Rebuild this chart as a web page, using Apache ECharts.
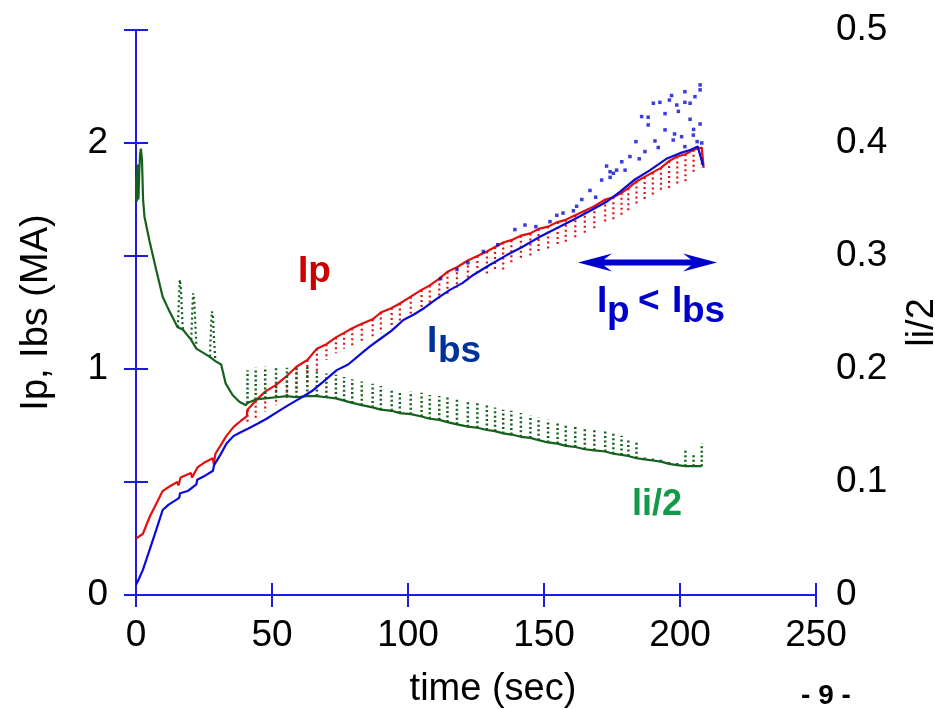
<!DOCTYPE html>
<html><head><meta charset="utf-8">
<script src="https://cdn.jsdelivr.net/npm/echarts@6/dist/echarts.min.js"></script>
<style>html,body{margin:0;padding:0;background:#fff;overflow:hidden}#c{width:935px;height:709px}</style>
</head><body><div id="c"></div>
<script>
// ---------- data (time in sec) ----------
const xTickValues = [0, 50, 100, 150, 200, 250];

// Ip (MA), early smooth phase
const ipEarlyT = [0, 1, 2.5, 5, 7.5, 9.8, 12, 15.2, 15.6, 16.4, 20.2, 20.6, 22.7, 25, 28.2, 28.6, 29.2, 31, 33.3, 36, 38.5, 40.7];
const ipEarlyV = [0.248, 0.258, 0.27, 0.345, 0.405, 0.46, 0.478, 0.50, 0.485, 0.52, 0.54, 0.52, 0.566, 0.585, 0.605, 0.58, 0.625, 0.66, 0.705, 0.745, 0.77, 0.79];

// sawtooth times (sec)
const toothT = [41, 44, 47.5, 51.5, 55.5, 59, 63, 66.5, 70, 73.5, 76.5, 79.5, 83, 87, 90, 94, 97, 101, 105, 108,
  111.5, 114.5, 118, 122, 125.5, 129, 132, 135, 138, 141.5, 145, 148, 151.5, 155, 158, 161.5, 165, 168.5, 172.5, 175.5,
  178.5, 181, 184, 187, 190, 193, 196, 199, 202, 205, 208];
// Ip upper envelope and dips at each sawtooth
const ipTop = [0.82, 0.86, 0.90, 0.93, 0.97, 1.01, 1.04, 1.09, 1.11, 1.14, 1.16, 1.18, 1.20, 1.22, 1.25, 1.27, 1.29, 1.32, 1.35, 1.37,
  1.40, 1.43, 1.45, 1.48, 1.50, 1.52, 1.54, 1.56, 1.57, 1.59, 1.60, 1.62, 1.63, 1.65, 1.66, 1.68, 1.70, 1.72, 1.75, 1.76,
  1.78, 1.80, 1.83, 1.85, 1.87, 1.89, 1.92, 1.94, 1.95, 1.97, 1.98];
const ipLow = [0.76, 0.78, 0.81, 0.84, 0.87, 0.90, 0.93, 0.99, 1.04, 1.07, 1.09, 1.10, 1.12, 1.14, 1.16, 1.18, 1.20, 1.23, 1.26, 1.28,
  1.31, 1.33, 1.36, 1.39, 1.41, 1.42, 1.43, 1.44, 1.46, 1.48, 1.49, 1.51, 1.52, 1.54, 1.56, 1.57, 1.59, 1.61, 1.64, 1.65,
  1.68, 1.70, 1.73, 1.74, 1.76, 1.78, 1.80, 1.81, 1.83, 1.86, 1.89];
const ipEndT = [208.7];
const ipEndV = [1.89];

// Ibs (MA)
const ibsT = [0, 1, 2.5, 5, 7.5, 9.8, 12, 15.9, 16.2, 19, 22.2, 22.5, 25, 28.3, 28.7, 31, 33.3, 35.8, 38.5, 41.3, 45, 48, 52, 56,
  60.3, 65, 69, 73.8, 78, 82, 86, 90, 94, 98.3, 102, 106, 110.5, 115.4, 120, 124, 130, 136.3, 142, 148.5, 155, 160.8, 167,
  173, 178, 183, 189, 195, 200, 204, 206.5, 208.5];
const ibsV = [0.045, 0.07, 0.11, 0.2, 0.29, 0.376, 0.40, 0.43, 0.45, 0.46, 0.49, 0.51, 0.525, 0.55, 0.575, 0.62, 0.67, 0.703, 0.72, 0.737, 0.76, 0.78, 0.81, 0.84,
  0.87, 0.905, 0.945, 0.995, 1.02, 1.06, 1.10, 1.135, 1.17, 1.217, 1.24, 1.27, 1.31, 1.35, 1.38, 1.416, 1.46, 1.504, 1.54, 1.585, 1.625, 1.66, 1.70,
  1.74, 1.785, 1.835, 1.88, 1.93, 1.955, 1.97, 1.985, 1.90];
// scattered Ibs samples above the trend
const ibsDotT = [112, 118, 122, 127.7, 133, 139.3, 143, 147, 152.2, 154.7, 157, 160.8, 162, 163.9, 166.9, 169, 171.2, 173, 174.3, 175.5, 174.3,
  176.7, 178.6, 179.8, 181.6, 183.8, 185, 185.9, 187.1, 188.3, 188.3, 190.2, 190.8, 192, 192.6, 194.5, 194.5, 196.1, 196.9, 197.5, 198,
  198.8, 199.4, 200.6, 201.8, 201.8, 201.8, 203.7, 203.7, 204.9, 205, 205.5, 206.3, 207.4, 207.4, 207.4, 208];
const ibsDotV = [1.40, 1.44, 1.47, 1.52, 1.55, 1.617, 1.637, 1.63, 1.652, 1.68, 1.69, 1.70, 1.72, 1.75, 1.79, 1.76, 1.836, 1.898, 1.873, 1.866, 1.848,
  1.88, 1.917, 1.88, 1.94, 2.006, 1.93, 2.117, 1.962, 2.114, 2.08, 2.176, 2.009, 1.98, 2.18, 2.13, 2.058, 2.19, 2.21, 2.013, 2.04,
  2.168, 2.14, 2.028, 2.227, 2.18, 1.984, 2.176, 2.105, 2.035, 2.06, 2.205, 2.006, 2.257, 2.235, 2.084, 2.0];

// li/2, early phase
const liEarlyT = [0, 0.3, 0.6, 0.9, 1.2, 1.5, 1.8, 2.2, 2.6, 3.1, 4.9, 7.4, 9.8, 12.3, 15.3, 17.2, 20.2, 22.2, 27, 29.2, 31.3, 33, 35.5, 38, 40.4];
const liEarlyV = [0.37, 0.348, 0.381, 0.35, 0.375, 0.39, 0.395, 0.385, 0.35, 0.335, 0.314, 0.288, 0.264, 0.251, 0.237, 0.235, 0.226, 0.218, 0.211, 0.207, 0.204, 0.187, 0.177, 0.171, 0.168];
// early li/2 bumps
const liBumpT = [[15.4, 15.8, 16.1, 16.5, 16.9, 17.2], [20.3, 20.7, 21.0, 21.4, 21.8, 22.2], [27.2, 27.6, 27.9, 28.3, 28.7, 29.2]];
const liBumpV = [[0.237, 0.262, 0.279, 0.272, 0.250, 0.235], [0.226, 0.252, 0.267, 0.262, 0.240, 0.220], [0.211, 0.238, 0.251, 0.246, 0.225, 0.207]];
// li/2 baseline and spike tops at each sawtooth
const liLow = [0.170, 0.173, 0.174, 0.175, 0.176, 0.175, 0.176, 0.176, 0.175, 0.174, 0.172, 0.170, 0.168, 0.166, 0.164, 0.163, 0.161, 0.160, 0.158, 0.156,
  0.155, 0.153, 0.151, 0.149, 0.148, 0.146, 0.145, 0.143, 0.142, 0.140, 0.139, 0.137, 0.135, 0.134, 0.132, 0.131, 0.129, 0.128, 0.127, 0.125,
  0.124, 0.123, 0.121, 0.120, 0.119, 0.118, 0.116, 0.115, 0.114, 0.114, 0.114];
const liHigh = [0.199, 0.201, 0.202, 0.201, 0.201, 0.202, 0.203, 0.199, 0.196, 0.195, 0.193, 0.191, 0.189, 0.187, 0.185, 0.183, 0.181, 0.180, 0.179, 0.177,
  0.176, 0.175, 0.174, 0.172, 0.170, 0.168, 0.166, 0.164, 0.163, 0.161, 0.159, 0.157, 0.155, 0.153, 0.151, 0.150, 0.148, 0.147, 0.145, 0.143,
  0.141, 0.139, 0.137, 0.124, 0.122, 0.120, 0.118, 0.117, 0.128, 0.125, 0.134];

// ---------- build ----------
const zip = (a, b) => a.map((t, i) => [t, b[i]]);
function segs(ts, a, b) {
  const out = [];
  ts.forEach((t, i) => { out.push([t, a[i]]); out.push([t, b[i]]); out.push([t, '-']); });
  return out;
}
const ipMain = zip(ipEarlyT, ipEarlyV).concat(zip(toothT, ipTop), zip(ipEndT, ipEndV));
const liMain = zip(liEarlyT, liEarlyV).concat(zip(toothT, liLow));
let liBumps = [];
liBumpT.forEach((ts, k) => { liBumps = liBumps.concat(zip(ts, liBumpV[k])); liBumps.push([ts[ts.length - 1], '-']); });

const AX = '#1c1ce0';
const FONT = '"Liberation Sans", Arial, sans-serif';
const RED = '#e01010', BLUE = '#0a0ad8', GREEN = '#14601c';

const chart = echarts.init(document.getElementById('c'), null, { renderer: 'canvas' });
const axisCommon = {
  axisLine: { show: true, lineStyle: { color: AX, width: 2 } },
  axisTick: { show: true, inside: true, length: 12, lineStyle: { color: AX, width: 2 } },
  splitLine: { show: false },
};
chart.setOption({
  animation: false,
  backgroundColor: '#fff',
  grid: { left: 136, right: 119, top: 30, bottom: 114, containLabel: false, outerBoundsMode: 'none' },
  xAxis: [
    Object.assign({
      type: 'value', min: xTickValues[0], max: xTickValues[xTickValues.length - 1], interval: 50, position: 'bottom',
      name: 'time (sec)', nameLocation: 'middle', nameGap: 76,
      nameTextStyle: { fontFamily: FONT, fontSize: 38, color: '#000', padding: [0, 0, 0, 34] },
      axisLabel: { fontFamily: FONT, fontSize: 37, color: '#000', margin: 22 },
    }, axisCommon),
    Object.assign({
      type: 'value', min: 0, max: 250, interval: 50, position: 'top', axisLabel: { show: false },
    }, axisCommon),
  ],
  yAxis: [
    Object.assign({
      type: 'value', min: 0, max: 2.5, interval: 0.5, position: 'left',
      name: 'Ip, Ibs (MA)', nameLocation: 'middle', nameGap: 80,
      nameTextStyle: { fontFamily: FONT, fontSize: 38, color: '#000' },
      axisLabel: { fontFamily: FONT, fontSize: 37, color: '#000', margin: 28,
        formatter: v => (Math.abs(v - Math.round(v)) < 1e-9 ? String(Math.round(v)) : '') },
    }, axisCommon),
    Object.assign({
      type: 'value', min: 0, max: 0.5, interval: 0.1, position: 'right',
      name: 'li/2', nameLocation: 'middle', nameGap: 88,
      nameTextStyle: { fontFamily: FONT, fontSize: 38, color: '#000', padding: [0, 20, 0, 0] },
      axisLabel: { fontFamily: FONT, fontSize: 37, color: '#000', margin: 20,
        formatter: v => String(Math.round(v * 10) / 10) },
    }, axisCommon),
  ],
  series: [
    { name: 'Ip', type: 'line', data: ipMain, symbol: 'none', lineStyle: { color: RED, width: 2.2 }, z: 2 },
    { name: 'Ip dips', type: 'line', data: segs(toothT, ipTop, ipLow), symbol: 'none', connectNulls: false,
      lineStyle: { color: RED, width: 2.2, type: [2, 3] }, z: 2 },
    { name: 'li/2', type: 'line', yAxisIndex: 1, data: liMain, symbol: 'none', lineStyle: { color: GREEN, width: 2.2 }, z: 3 },
    { name: 'li/2 spikes', type: 'line', yAxisIndex: 1, data: segs(toothT, liLow, liHigh), symbol: 'none', connectNulls: false,
      lineStyle: { color: GREEN, width: 2.5, type: [2, 2.5] }, z: 3 },
    { name: 'li/2 bumps', type: 'line', yAxisIndex: 1, data: liBumps, symbol: 'none', connectNulls: false,
      lineStyle: { color: GREEN, width: 2.2, type: [2, 3] }, z: 3 },
    { name: 'Ibs', type: 'line', data: zip(ibsT, ibsV), symbol: 'none', lineStyle: { color: BLUE, width: 2.2 }, z: 4 },
    { name: 'Ibs samples', type: 'scatter', data: zip(ibsDotT, ibsDotV), symbol: 'rect', symbolSize: 3.5,
      itemStyle: { color: BLUE }, z: 4 },
  ],
  graphic: [
    { type: 'text', x: 298, y: 253, style: { text: 'Ip', font: 'bold 37px ' + FONT, fill: '#cc0000', textVerticalAlign: 'top' } },
    { type: 'text', x: 427, y: 323, style: { text: 'I', font: 'bold 37px ' + FONT, fill: '#003399', textVerticalAlign: 'top' } },
    { type: 'text', x: 438, y: 333, style: { text: 'bs', font: 'bold 37px ' + FONT, fill: '#003399', textVerticalAlign: 'top' } },
    { type: 'text', x: 597, y: 283, style: { text: 'I', font: 'bold 37px ' + FONT, fill: '#0000cc', textVerticalAlign: 'top' } },
    { type: 'text', x: 607, y: 293, style: { text: 'p', font: 'bold 37px ' + FONT, fill: '#0000cc', textVerticalAlign: 'top' } },
    { type: 'text', x: 638, y: 283, style: { text: '<', font: 'bold 37px ' + FONT, fill: '#0000cc', textVerticalAlign: 'top' } },
    { type: 'text', x: 672, y: 283, style: { text: 'I', font: 'bold 37px ' + FONT, fill: '#0000cc', textVerticalAlign: 'top' } },
    { type: 'text', x: 682, y: 293, style: { text: 'bs', font: 'bold 37px ' + FONT, fill: '#0000cc', textVerticalAlign: 'top' } },
    { type: 'polygon', shape: { points: [[578, 262.5], [612, 253.5], [604, 259.5], [691, 259.5], [683, 253.5], [717, 262.5], [683, 271.5], [691, 265.5], [604, 265.5], [612, 271.5]] },
      style: { fill: '#0000cc' } },
    { type: 'text', x: 632, y: 487, style: { text: 'li/2', font: 'bold 36px ' + FONT, fill: '#129a4a', textVerticalAlign: 'top' } },
    { type: 'text', x: 826, y: 682, style: { text: '- 9 -', font: 'bold 28px ' + FONT, fill: '#000', textAlign: 'center', textVerticalAlign: 'top' } },
  ],
});
</script>
</body></html>
